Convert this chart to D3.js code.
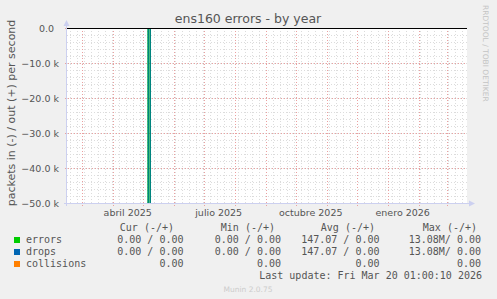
<!DOCTYPE html>
<html>
<head>
<meta charset="utf-8">
<script src="https://cdn.jsdelivr.net/npm/d3@7"></script>
<style>
  body { margin: 0; background: #f0f0f0; }
  svg { display: block; }
</style>
</head>
<body>
<svg></svg>
<script>
// data
let errorsSeries = [
  ['2025-02-14', 0], ['2025-05-06', 0], ['2025-05-07', -13080000], ['2025-05-08', 0], ['2026-03-20', 0]
]
let dropsSeries = [
  ['2025-02-14', 0], ['2025-05-06', 0], ['2025-05-07', -13080000], ['2025-05-08', 0], ['2026-03-20', 0]
]
let yTicks = [0, -10000, -20000, -30000, -40000, -50000]
let monthLabels = [['2025-04-16', 'abril 2025'], ['2025-07-16', 'julio 2025'], ['2025-10-16', 'octubre 2025'], ['2026-01-16', 'enero 2026']]
let legendNames = ['errors', 'drops', 'collisions']
let legendColors = ['#00cc00', '#0066b3', '#ff8000']
let curVals = ['0.00 / 0.00', '0.00 / 0.00', '0.00']
let minVals = ['0.00 / 0.00', '0.00 / 0.00', '0.00']
let avgVals = ['147.07 / 0.00', '147.07 / 0.00', '0.00']
let maxVals = ['13.08M/ 0.00', '13.08M/ 0.00', '0.00']
let colHeaders = ['Cur (-/+)', 'Min (-/+)', 'Avg (-/+)', 'Max (-/+)']

let width = 497, height = 299
let plot = {left: 67, right: 467, top: 28, bottom: 203}

let parse = d3.timeParse('%Y-%m-%d')

let svg = d3.select('svg')
  .attr('width', width)
  .attr('height', height)
  .style('font-family', 'DejaVu Sans, sans-serif')

svg.append('rect')
  .attr('x', plot.left).attr('y', plot.top)
  .attr('width', plot.right - plot.left).attr('height', plot.bottom - plot.top)
  .attr('fill', '#ffffff')

// x scale: about one pixel per day
let xScale = d3.scaleTime()
  .domain([new Date(2025, 1, 14, 7), new Date(2026, 2, 21, 7)])
  .range([plot.left, plot.right])

let yScale = d3.scaleLinear()
  .domain([-50000, 0])
  .range([plot.bottom, plot.top])

let px = v => Math.round(v) + 0.5

let grid = svg.append('g')

// minor grid: weeks and 2k steps
let weeks = d3.timeMonday.range(xScale.domain()[0], xScale.domain()[1])
grid.selectAll('.wk').data(weeks).enter().append('line')
  .attr('x1', d => px(xScale(d))).attr('x2', d => px(xScale(d)))
  .attr('y1', plot.top).attr('y2', plot.bottom + 2)
  .attr('stroke', '#dcdcdc').attr('stroke-dasharray', '1,2')

let minorY = d3.range(-50000, 1, 2000)
grid.selectAll('.my').data(minorY).enter().append('line')
  .attr('x1', plot.left).attr('x2', plot.right)
  .attr('y1', d => px(yScale(d))).attr('y2', d => px(yScale(d)))
  .attr('stroke', '#dcdcdc').attr('stroke-dasharray', '1,2')

// major grid: months and 10k steps
let months = d3.timeMonth.range(xScale.domain()[0], xScale.domain()[1])
grid.selectAll('.mo').data(months).enter().append('line')
  .attr('x1', d => px(xScale(d))).attr('x2', d => px(xScale(d)))
  .attr('y1', plot.top).attr('y2', plot.bottom + 3)
  .attr('stroke', '#eaa0a0').attr('stroke-dasharray', '1,2')

grid.selectAll('.may').data(yTicks).enter().append('line')
  .attr('x1', plot.left - 2).attr('x2', plot.right)
  .attr('y1', d => px(yScale(d))).attr('y2', d => px(yScale(d)))
  .attr('stroke', '#eaa0a0').attr('stroke-dasharray', '1,2')

// axes lines with arrows
svg.append('line')
  .attr('x1', plot.left - 0.5).attr('x2', plot.left - 0.5)
  .attr('y1', plot.bottom + 3).attr('y2', 22)
  .attr('stroke', '#ccd0f0')
svg.append('path')
  .attr('d', `M${plot.left - 3.5},26 L${plot.left - 0.5},20 L${plot.left + 2.5},26 Z`)
  .attr('fill', '#ccd0f0')
svg.append('line')
  .attr('x1', plot.left - 3).attr('x2', 470)
  .attr('y1', plot.bottom + 0.5).attr('y2', plot.bottom + 0.5)
  .attr('stroke', '#ccd0f0')
svg.append('path')
  .attr('d', `M469,${plot.bottom - 2.5} L475,${plot.bottom + 0.5} L469,${plot.bottom + 3.5} Z`)
  .attr('fill', '#ccd0f0')

// series
svg.append('clipPath').attr('id', 'plotclip')
  .append('rect')
  .attr('x', plot.left).attr('y', plot.top)
  .attr('width', plot.right - plot.left).attr('height', plot.bottom - plot.top)

let line = d3.line()
  .x(d => xScale(parse(d[0])) + 0.5)
  .y(d => yScale(d[1]))

svg.append('path')
  .datum(errorsSeries)
  .attr('d', line)
  .attr('fill', 'none')
  .attr('stroke', legendColors[0])
  .attr('stroke-width', 1.6)
  .attr('clip-path', 'url(#plotclip)')

svg.append('path')
  .datum(dropsSeries)
  .attr('d', line)
  .attr('fill', 'none')
  .attr('stroke', legendColors[1])
  .attr('stroke-width', 1)
  .attr('clip-path', 'url(#plotclip)')

// zero line
svg.append('line')
  .attr('x1', plot.left).attr('x2', plot.right)
  .attr('y1', px(yScale(0))).attr('y2', px(yScale(0)))
  .attr('stroke', '#000000')

// y tick labels
svg.selectAll('.yl').data(yTicks).enter().append('text')
  .attr('x', d => d === 0 ? 54 : 59)
  .attr('y', d => yScale(d) + 3.5)
  .attr('text-anchor', 'end')
  .attr('font-size', 9.5)
  .attr('fill', '#555555')
  .text(d => d === 0 ? '0.0' : d3.format('.1f')(d / 1000) + ' k')

// x labels
svg.selectAll('.xl').data(monthLabels).enter().append('text')
  .attr('x', d => xScale(parse(d[0])))
  .attr('y', 216)
  .attr('text-anchor', 'middle')
  .attr('font-size', 9.5)
  .attr('fill', '#555555')
  .text(d => d[1])

// title
svg.append('text')
  .attr('x', 248).attr('y', 23)
  .attr('text-anchor', 'middle')
  .attr('font-size', 12.5)
  .attr('fill', '#555555')
  .text('ens160 errors - by year')

// y axis title
svg.append('text')
  .attr('transform', 'translate(15,113) rotate(-90)')
  .attr('text-anchor', 'middle')
  .attr('font-size', 11)
  .attr('fill', '#555555')
  .text('packets in (-) / out (+) per second')

// side text
svg.append('text')
  .attr('transform', 'translate(483,5) rotate(90)')
  .attr('font-size', 7.5)
  .attr('fill', '#c4c4c4')
  .text('RRDTOOL / TOBI OETIKER')

// legend table
let mono = 'DejaVu Sans Mono, monospace'
let rowY = [243, 255, 267]
let legend = svg.append('g').style('font-family', mono).attr('font-size', 10).attr('fill', '#555555')

let headerEnds = [174, 275, 375, 477]
legend.selectAll('.hd').data(colHeaders).enter().append('text')
  .attr('x', (d, i) => headerEnds[i]).attr('y', 231)
  .attr('text-anchor', 'end')
  .text(d => d)

legend.selectAll('.sw').data(legendColors).enter().append('rect')
  .attr('x', 14).attr('y', (d, i) => rowY[i] - 6)
  .attr('width', 6).attr('height', 6)
  .attr('fill', d => d)

legend.selectAll('.nm').data(legendNames).enter().append('text')
  .attr('x', 26).attr('y', (d, i) => rowY[i])
  .text(d => d)

let cols = [[curVals, 183.5], [minVals, 281], [avgVals, 379.5], [maxVals, 481]]
cols.forEach(c => {
  legend.selectAll(null).data(c[0]).enter().append('text')
    .attr('x', c[1]).attr('y', (d, i) => rowY[i])
    .attr('text-anchor', 'end')
    .text(d => d)
})

legend.append('text')
  .attr('x', 482).attr('y', 279)
  .attr('text-anchor', 'end')
  .text('Last update: Fri Mar 20 01:00:10 2026')

svg.append('text')
  .attr('x', 248).attr('y', 292)
  .attr('text-anchor', 'middle')
  .attr('font-size', 7.5)
  .attr('fill', '#cccccc')
  .text('Munin 2.0.75')
</script>
</body>
</html>
